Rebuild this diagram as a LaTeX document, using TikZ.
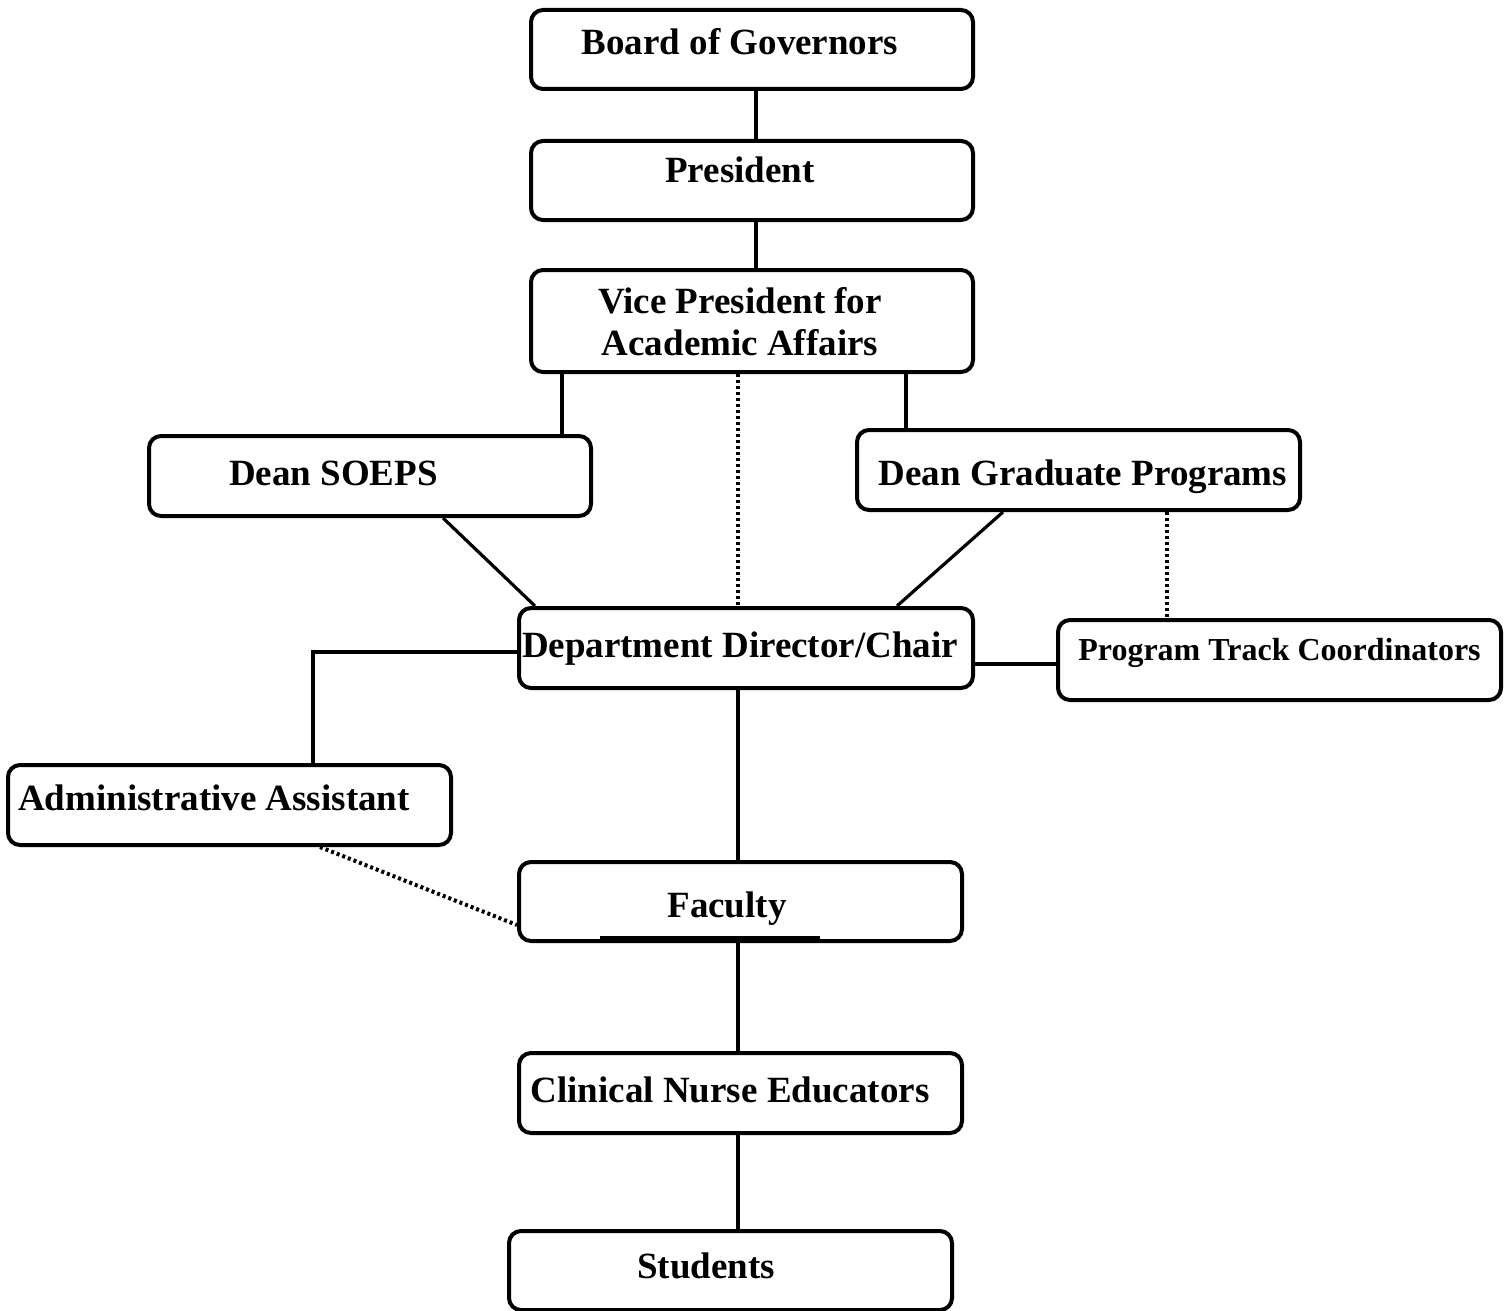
\documentclass[tikz,border=0pt]{standalone}
\usepackage{fontspec}
\setmainfont{Liberation Serif}
\begin{document}
\begin{tikzpicture}[x=0.5pt,y=-0.5pt,
  box/.style={draw=black,line width=2pt,rounded corners=6pt,inner sep=0pt,fill=white},
  lbl/.style={anchor=base,inner sep=0pt,font=\fontsize{18.5}{21}\selectfont\bfseries},
  lbls/.style={anchor=base,inner sep=0pt,font=\fontsize{16}{19}\selectfont\bfseries},
  conn/.style={line width=1.6pt},
  dot/.style={line width=2pt,dash pattern=on 1.5pt off 1.5pt}]
\useasboundingbox (0,0) rectangle (1510,1311);
% helper coordinates
\foreach \v in {313,320,443,535,562,600,738,756,820,897,906,1003,1167}{\coordinate (v\v) at (\v,0);}
\foreach \h in {652,664,925,938}{\coordinate (h\h) at (0,\h);}
% boxes
\node[box,minimum width=221pt,minimum height=39.5pt] (bog) at (752,49.5) {};
\node[box,minimum width=221pt,minimum height=39.5pt] (pres) at (752,180.5) {};
\node[box,minimum width=221pt,minimum height=51pt] (vp) at (752,321) {};
\node[box,minimum width=221pt,minimum height=40pt] (deans) at (370,476) {};
\node[box,minimum width=221.5pt,minimum height=40pt] (deang) at (1078.5,470) {};
\node[box,minimum width=227pt,minimum height=40pt] (dept) at (746,648) {};
\node[box,minimum width=221.5pt,minimum height=40pt] (ptc) at (1279.5,660) {};
\node[box,minimum width=221.5pt,minimum height=40pt] (admin) at (229.5,805) {};
\node[box,minimum width=221.5pt,minimum height=39.5pt] (fac) at (740.5,901.5) {};
\node[box,minimum width=221.5pt,minimum height=40pt] (cne) at (740.5,1093) {};
\node[box,minimum width=221.5pt,minimum height=39.5pt] (stu) at (730.5,1270.5) {};
% labels
\node[lbl] (tbog) at (740,55) {Board of Governors};
\node[lbl] (tpres) at (740,183) {President};
\node[lbl] (tvp1) at (740,313) {Vice President for};
\node[lbl] (tvp2) at (740,355) {Academic Affairs};
\node[lbl] (tdeans) at (333.5,485) {Dean SOEPS};
\node[lbl] (tdeang) at (1083,485) {Dean Graduate Programs};
\node[lbl] (tdept) at (740,657) {Department Director/Chair};
\node[lbls] (tptc) at (1279.5,660) {Program Track Coordinators};
\node[lbl] (tadmin) at (214,810) {Administrative Assistant};
\node[lbl] (tfac) at (727,917) {Faculty};
\node[lbl] (tcne) at (730,1102) {Clinical Nurse Educators};
\node[lbl] (tstu) at (706,1278) {Students};
% connectors
\draw[conn] (bog.south -| v756) -- (pres.north -| v756);
\draw[conn] (pres.south -| v756) -- (vp.north -| v756);
\draw[conn] (vp.south -| v562) -- (deans.north -| v562);
\draw[conn] (vp.south -| v906) -- (deang.north -| v906);
\draw[dot] (vp.south -| v738) -- (dept.north -| v738);
\draw[conn] (deans.south -| v443) -- (dept.north -| v535);
\draw[conn] (deang.south -| v1003) -- (dept.north -| v897);
\draw[dot] (deang.south -| v1167) -- (ptc.north -| v1167);
\draw[conn] (dept.east |- h664) -- (ptc.west |- h664);
\draw[conn] (dept.west |- h652) -| (admin.north -| v313);
\draw[dot] (admin.south -| v320) -- (fac.west |- h925);
\draw[conn] (dept.south -| v738) -- (fac.north -| v738);
\draw[conn] (fac.south -| v738) -- (cne.north -| v738);
\draw[conn] (cne.south -| v738) -- (stu.north -| v738);
\draw[line width=2.5pt] (h938 -| v600) -- (h938 -| v820);
\end{tikzpicture}
\end{document}
